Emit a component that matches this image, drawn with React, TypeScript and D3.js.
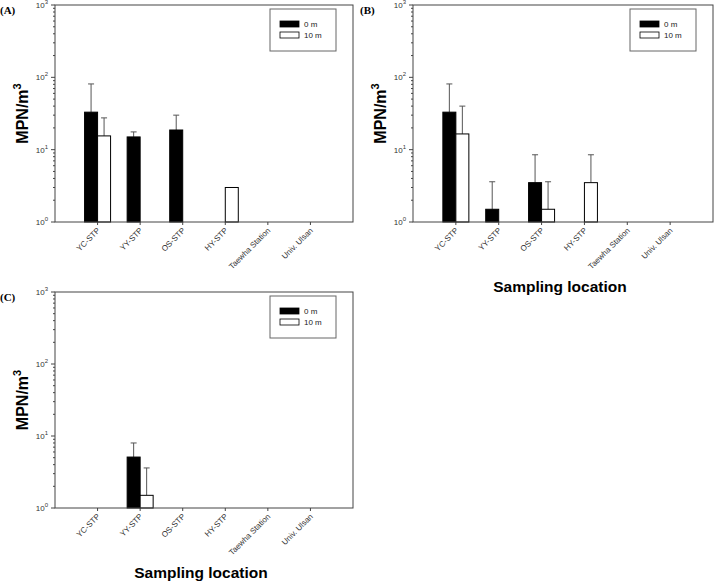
import React, { useEffect, useRef } from "react";
import * as d3 from "d3";

// sampling locations (x categories)
const categories = [
  "YC-STP",
  "YY-STP",
  "OS-STP",
  "HY-STP",
  "Taewha Station",
  "Univ. Ulsan",
];
const seriesNames = ["0 m", "10 m"];

// (A) means and upward error (sd), null = not detected
const aMean0 = [33, 15, 18.7, null, null, null];
const aErr0 = [48, 2.6, 11.3, null, null, null];
const aMean10 = [15.5, null, null, 3.0, null, null];
const aErr10 = [12, null, null, null, null, null];

// (B)
const bMean0 = [33, 1.5, 3.5, null, null, null];
const bErr0 = [48, 2.1, 5, null, null, null];
const bMean10 = [16.5, null, 1.5, 3.5, null, null];
const bErr10 = [23.5, null, 2.1, 5, null, null];

// (C)
const cMean0 = [null, 5.1, null, null, null, null];
const cErr0 = [null, 2.9, null, null, null, null];
const cMean10 = [null, 1.5, null, null, null, null];
const cErr10 = [null, 2.1, null, null, null, null];

const yTickExponents = [0, 1, 2, 3];

type Val = number | null;

interface PanelDef {
  tag: string;
  left: number;
  top: number;
  right: number;
  bottom: number;
  mean0: Val[];
  err0: Val[];
  mean10: Val[];
  err10: Val[];
  xTitle: boolean;
}

const panels: PanelDef[] = [
  { tag: "(A)", left: 55, top: 5, right: 353, bottom: 222, mean0: aMean0, err0: aErr0, mean10: aMean10, err10: aErr10, xTitle: false },
  { tag: "(B)", left: 413, top: 5, right: 713, bottom: 222, mean0: bMean0, err0: bErr0, mean10: bMean10, err10: bErr10, xTitle: true },
  { tag: "(C)", left: 55, top: 292, right: 353, bottom: 508, mean0: cMean0, err0: cErr0, mean10: cMean10, err10: cErr10, xTitle: true },
];

const FONT = "'Liberation Sans', Arial, sans-serif";

const App: React.FC = () => {
  const svgRef = useRef<SVGSVGElement>(null);

  useEffect(() => {
    if (!svgRef.current) return;
    const svg = d3.select(svgRef.current);
    svg.selectAll("*").remove();

    panels.forEach((p) => {
      const g = svg.append("g");

      const x = d3
        .scalePoint<string>()
        .domain(categories)
        .range([p.left, p.right])
        .padding(1);
      const y = d3.scaleLog().domain([1, 1000]).range([p.bottom, p.top]);
      const barW = 13;

      // bars + error bars
      const drawSeries = (means: Val[], errs: Val[], offset: number, fill: string) => {
        means.forEach((m, i) => {
          if (m == null) return;
          const cx = (x(categories[i]) || 0) + offset;
          const e = errs[i];
          if (e != null) {
            const yt = y(m + e);
            const xm = cx + barW / 2;
            g.append("line")
              .attr("x1", xm).attr("x2", xm)
              .attr("y1", y(m)).attr("y2", yt)
              .attr("stroke", "#555").attr("stroke-width", 1);
            g.append("line")
              .attr("x1", xm - 3).attr("x2", xm + 3)
              .attr("y1", yt).attr("y2", yt)
              .attr("stroke", "#555").attr("stroke-width", 1);
          }
          g.append("rect")
            .attr("x", cx)
            .attr("y", y(m))
            .attr("width", barW)
            .attr("height", p.bottom - y(m))
            .attr("fill", fill)
            .attr("stroke", "#000")
            .attr("stroke-width", 1);
        });
      };
      drawSeries(p.mean0, p.err0, -barW, "#000");
      drawSeries(p.mean10, p.err10, 0, "#fff");

      // frame
      g.append("rect")
        .attr("x", p.left).attr("y", p.top)
        .attr("width", p.right - p.left).attr("height", p.bottom - p.top)
        .attr("fill", "none").attr("stroke", "#444").attr("stroke-width", 1);

      // y ticks (major + minor)
      yTickExponents.forEach((k) => {
        const v = Math.pow(10, k);
        g.append("line")
          .attr("x1", p.left - 4).attr("x2", p.left)
          .attr("y1", y(v)).attr("y2", y(v))
          .attr("stroke", "#444");
        const t = g.append("text")
          .attr("x", p.left - 7).attr("y", y(v) + 3)
          .attr("text-anchor", "end")
          .style("font-family", FONT)
          .style("font-size", "8px")
          .style("fill", "#333");
        t.append("tspan").text("10");
        t.append("tspan").attr("dy", -4).style("font-size", "6px").text(String(k));
        if (k < 3) {
          for (let m = 2; m <= 9; m++) {
            const vy = y(m * v);
            g.append("line")
              .attr("x1", p.left - 2).attr("x2", p.left)
              .attr("y1", vy).attr("y2", vy)
              .attr("stroke", "#444");
          }
        }
      });

      // x ticks + rotated labels
      categories.forEach((c) => {
        const cx = x(c) || 0;
        g.append("line")
          .attr("x1", cx).attr("x2", cx)
          .attr("y1", p.bottom).attr("y2", p.bottom + 3)
          .attr("stroke", "#444");
        g.append("text")
          .attr("transform", `translate(${cx + 3},${p.bottom + 9}) rotate(-45)`)
          .attr("text-anchor", "end")
          .style("font-family", FONT)
          .style("font-size", "8px")
          .style("fill", "#333")
          .text(c);
      });

      // y title
      const cy = (p.top + p.bottom) / 2;
      const yt = g.append("text")
        .attr("transform", `translate(${p.left - 27},${cy}) rotate(-90)`)
        .attr("text-anchor", "middle")
        .style("font-family", FONT)
        .style("font-size", "16px")
        .style("font-weight", "bold")
        .style("fill", "#000");
      yt.append("tspan").text("MPN/m");
      yt.append("tspan").attr("dy", -7).style("font-size", "11px").text("3");

      // x title
      if (p.xTitle) {
        g.append("text")
          .attr("x", (p.left + p.right) / 2 - 3)
          .attr("y", p.bottom + 70)
          .attr("text-anchor", "middle")
          .style("font-family", FONT)
          .style("font-size", "15.5px")
          .style("font-weight", "bold")
          .style("fill", "#000")
          .text("Sampling location");
      }

      // panel tag
      g.append("text")
        .attr("x", p.left - 55 + (p.tag === "(B)" ? 2 : 0))
        .attr("y", p.top + 9)
        .style("font-family", "'Liberation Serif', 'Times New Roman', serif")
        .style("font-size", "11px")
        .style("font-weight", "bold")
        .text(p.tag);

      // legend
      const lx = p.right - 83;
      const ly = p.top + 4;
      g.append("rect")
        .attr("x", lx).attr("y", ly).attr("width", 66).attr("height", 42)
        .attr("fill", "#fff").attr("stroke", "#666").attr("stroke-width", 1);
      seriesNames.forEach((s, i) => {
        g.append("rect")
          .attr("x", lx + 10).attr("y", ly + 12 + i * 11)
          .attr("width", 19).attr("height", 6)
          .attr("fill", i === 0 ? "#000" : "#fff")
          .attr("stroke", "#000").attr("stroke-width", 0.8);
        g.append("text")
          .attr("x", lx + 34).attr("y", ly + 18 + i * 11)
          .style("font-family", FONT)
          .style("font-size", "8px")
          .style("fill", "#222")
          .text(s);
      });
    });
  }, []);

  return (
    <svg
      ref={svgRef}
      width={716}
      height={584}
      style={{ position: "absolute", left: 0, top: 0, background: "#fff" }}
    />
  );
};

export default App;
